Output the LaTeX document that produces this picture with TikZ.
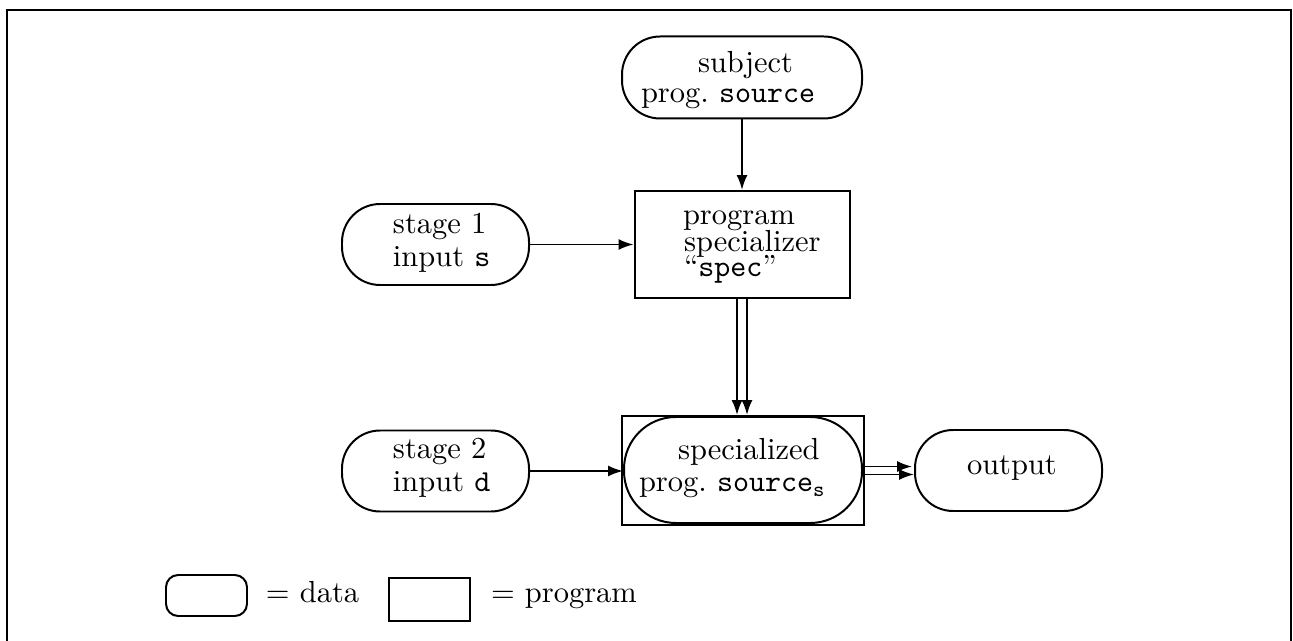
\documentclass[tikz,border=0pt]{standalone}
\usetikzlibrary{arrows.meta,calc}
\newcommand{\pxl}{0.328pt}
\begin{document}
\begin{tikzpicture}[x=0.328pt,y=-0.328pt,line width=0.65pt,
  arr/.style={-{Latex[length=4.9pt,width=3.6pt]}},
  datanode/.style={draw,rounded corners=12.5pt,inner sep=0pt,minimum width=187*\pxl,minimum height=81*\pxl},
  prognode/.style={draw,inner sep=0pt},
  txt/.style={inner sep=0pt,anchor=base west}]
\useasboundingbox (0,0) rectangle (1293,641);
% frame (open at the bottom)
\draw[line width=0.5pt] (7,641) -- (7,10) -- (1291,10) -- (1291,641);

% shapes
\node[datanode,minimum width=240*\pxl,minimum height=82*\pxl] (subj) at (742,77.5) {};
\node[prognode,minimum width=215*\pxl,minimum height=107*\pxl] (spec) at (742,244.5) {};
\node[datanode] (s1) at (435.5,244.5) {};
\node[datanode] (s2) at (435.5,471) {};
\node[prognode,minimum width=242*\pxl,minimum height=109*\pxl] (box) at (743,470.5) {};
\node[draw,rounded corners=17pt,inner sep=0pt,minimum width=238*\pxl,minimum height=106*\pxl] (spd) at (743,470) {};
\node[datanode] (out) at (1008.5,470.5) {};
\node[draw,rounded corners=4pt,inner sep=0pt,minimum width=81*\pxl,minimum height=41*\pxl] (ldata) at (206.5,595.5) {};
\node[prognode,minimum width=81*\pxl,minimum height=43*\pxl] (lprog) at (429.5,599.5) {};

% texts
\node[txt] (t1) at (697,73) {subject};
\node[txt] (t2) at (640,103) {prog.~\texttt{source}};
\node[txt] (t3) at (682,225) {program};
\node[txt] (t4) at (683,252) {specializer};
\node[txt] (t5) at (683,277) {``\texttt{spec}''};
\node[txt] (t6) at (392,234) {stage 1};
\node[txt] (t7) at (392,267) {input \texttt{s}};
\node[txt] (t8) at (392,459) {stage 2};
\node[txt] (t9) at (392,492) {input \texttt{d}};
\node[txt] (t10) at (677,460) {specialized};
\node[txt] (t11) at (638,492) {prog.~\texttt{source}$_\mathtt{s}$};
\node[txt] (t12) at (966,475) {output};
\node[txt] (t13) at (265,603) {$=$ data};
\node[txt] (t14) at (490,603) {$=$ program};

% connectors
\draw[arr] (subj) -- (spec);
\draw[arr] (s1) -- (spec);
\draw[arr] (s2.east) -- (s2.east -| spd.west);
\draw[arr] ($(spec.south)+(-5,0)$) coordinate (d1) -- (d1 |- box.north);
\draw[arr] ($(spec.south)+(5,0)$) coordinate (d2) -- (d2 |- box.north);
\draw[arr] ($(box.east)+(0,-4)$) coordinate (r1) -- ($(r1 -| out.west)+(-2,0)$);
\draw[arr] ($(box.east)+(0,4)$) coordinate (r2) -- (r2 -| out.west);
\end{tikzpicture}
\end{document}
